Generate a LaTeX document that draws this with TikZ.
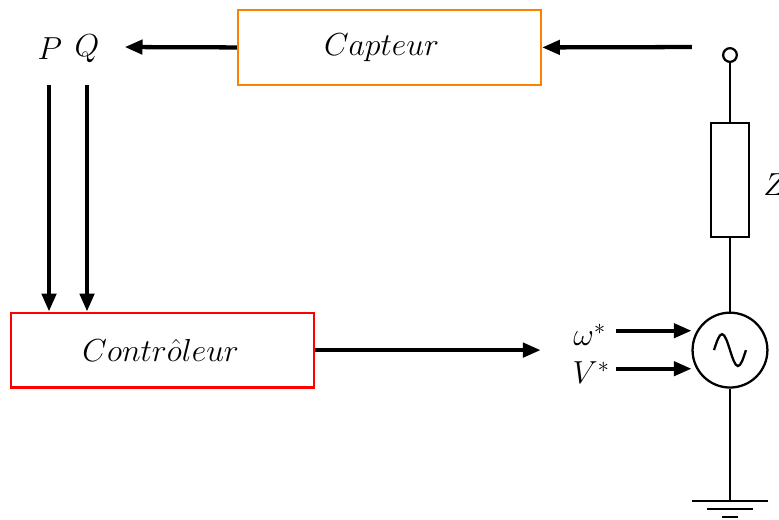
\documentclass[tikz,border=0pt]{standalone}
\usepackage{amsmath}
\usepackage{graphicx}
\usepackage{xcolor}
\usetikzlibrary{arrows.meta}
\newcommand{\bigMath}[1]{\scalebox{1.15}{$#1$}}
\tikzstyle{fBox} = [rectangle, minimum width=7.97cm, minimum height=1.97cm, text centered, line width=1.7pt, inner sep=0pt]
\tikzstyle{fLabel} = [inner sep=0pt]
\tikzstyle{fWire} = [line width=1.7pt]
\tikzstyle{fArrow} = [line width=3.2pt, -{Triangle[length=0.47cm, width=0.37cm]}]
\begin{document}
\begin{tikzpicture}[font=\huge]
    \useasboundingbox (0,0) rectangle (20.5,13.658);
    \node (capteur) [fBox, draw=orange] at (10.25,12.41) {\bigMath{Capteur}\kern0.42cm};
    \node (controleur) [fBox, draw=red] at (4.28,4.445) {\bigMath{Contr\hat{o}leur}\kern0.1cm};
    \node (source) [circle, fWire, draw, minimum size=1.97cm, inner sep=0pt] at (19.21,4.445) {};
    \node (impedance) [rectangle, fWire, draw, minimum width=1cm, minimum height=3cm, inner sep=0pt] at (19.21,8.92) {};
    \node (borne) [circle, fWire, draw, minimum size=0.36cm, inner sep=0pt] at (19.21,12.21) {};
    \node (labelZ) [fLabel, anchor=west] at (20.08,8.8) {\bigMath{Z}};
    \node (labelP) [fLabel] at (1.31,12.38) {\bigMath{P}};
    \node (labelQ) [fLabel] at (2.29,12.38) {\bigMath{Q}};
    \node (labelW) [fLabel, anchor=east] at (15.95,4.85) {\bigMath{\omega^*}};
    \node (labelV) [fLabel, anchor=east] at (16.05,3.85) {\bigMath{V^*}};

    \coordinate (mesure) at (18.21,12.42);
    \coordinate (retour) at (3.28,12.42);
    \coordinate (sortie) at (14.23,4.445);
    \coordinate (pDepart) at (1.29,11.42);
    \coordinate (qDepart) at (2.29,11.42);
    \coordinate (wDepart) at (16.21,4.955);
    \coordinate (vDepart) at (16.21,3.955);
    \coordinate (wFin) at (18.2,4.955);
    \coordinate (vFin) at (18.2,3.955);
    \coordinate (terre) at (19.21,0.474);
    \coordinate (terreB) at (19.21,0.263);
    \coordinate (terreC) at (19.21,0.053);

    \draw [fArrow] (capteur.west) -- (retour);
    \draw [fArrow] (mesure) -- (capteur.east);
    \draw [fArrow] (pDepart) -- (pDepart |- controleur.north);
    \draw [fArrow] (qDepart) -- (qDepart |- controleur.north);
    \draw [fArrow] (controleur.east) -- (sortie);
    \draw [fArrow] (wDepart) -- (wFin);
    \draw [fArrow] (vDepart) -- (vFin);

    \draw [fWire] (borne) -- (impedance);
    \draw [fWire] (impedance) -- (source);
    \draw [fWire] (source) -- (terre);
    \draw [fWire] ([xshift=-1cm]terre) -- ([xshift=1cm]terre);
    \draw [fWire] ([xshift=-0.6cm]terreB) -- ([xshift=0.6cm]terreB);
    \draw [fWire] ([xshift=-0.2cm]terreC) -- ([xshift=0.2cm]terreC);
    \draw [fWire] ([xshift=-0.42cm]source.center) sin ++(0.21,0.42) cos ++(0.21,-0.42) sin ++(0.21,-0.42) cos ++(0.21,0.42);
\end{tikzpicture}
\end{document}
